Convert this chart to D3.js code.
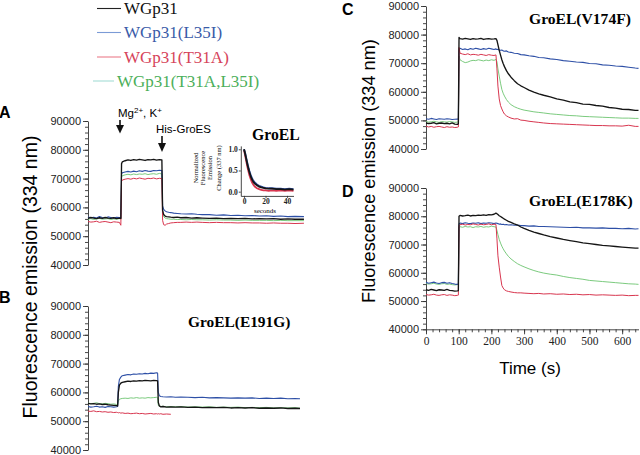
<!DOCTYPE html>
<html><head><meta charset="utf-8">
<script src="https://cdn.jsdelivr.net/npm/d3@7"></script>
<style>body{margin:0;background:#fff}svg{display:block}</style>
</head><body>
<svg id="chart" width="640" height="455"></svg>
<script>
// ---------------- DATA ----------------
const seriesNames = ["WGp31", "WGp31(L35I)", "WGp31(T31A)", "WGp31(T31A,L35I)"];
const seriesKeys = ["black", "blue", "red", "green"];
const yTickValues = [40000, 50000, 60000, 70000, 80000, 90000];
const xTickValues = [0, 100, 200, 300, 400, 500, 600];
const panelTitles = ["GroEL", "GroEL(E191G)", "GroEL(V174F)", "GroEL(E178K)"];
const panelLetters = ["A", "B", "C", "D"];

// Panel A (time, s)
const tA = [0,8,16,24,32,40,48,56,64,72,80,88,92,
  94,96,104,112,120,128,136,144,152,160,168,176,184,192,200,207,
  209,212,216,220,226,232,240,250,260,275,290,305,320,340,360,380,400,420,440,460,480,500,520,540,560,580,605];
const aBlack = [56200,56500,56300,56100,56400,56200,56500,56300,56200,56400,56100,56300,56200,
  75200,75800,76200,76500,76300,76600,76400,76700,76500,76300,76600,76500,76700,76400,76600,76500,
  59000,57500,57000,56800,56700,56600,56500,56600,56400,56500,56300,56400,56300,56200,56300,56100,56200,56100,56200,56000,56100,56000,56100,55900,56000,55900,55900];
const aBlue = [56700,56400,56600,56300,56800,56500,56400,56700,56500,56300,56600,56500,56400,
  71500,72000,72300,72500,72300,72600,72400,72700,72500,72800,72600,72500,72800,72700,72900,72800,
  60500,59300,58800,58500,58300,58200,58000,57900,57800,57700,57800,57600,57500,57500,57300,57400,57200,57300,57100,57200,57000,57100,56900,57000,56800,56900,56800];
const aRed = [55100,54900,55000,55200,54800,55000,55100,54900,54700,55000,54900,54800,53800,
  69000,69500,69800,70000,69800,70100,69900,70200,70000,69800,70100,70000,70200,69900,70100,70000,
  55500,54000,53800,54200,54400,54600,54700,54800,54800,54900,54800,54900,54800,54700,54800,54700,54700,54600,54700,54600,54600,54500,54600,54500,54500,54400,54500];
const aGreen = [55900,56100,55800,56000,56200,55900,56000,56100,55800,56000,55900,56100,55900,
  70500,71000,71300,71500,71300,71600,71400,71600,71500,71700,71400,71600,71700,71500,71800,71600,
  58000,56800,56300,56100,56000,55900,55900,55800,55800,55700,55800,55700,55700,55600,55700,55600,55600,55500,55600,55500,55500,55500,55400,55500,55400,55400,55400];

// Panel B
const tB = [0,8,16,24,32,40,48,56,64,72,80,83,
  85,88,92,96,104,112,120,128,136,144,152,160,168,176,184,192,195,
  197,200,204,210,220,232,245,260,280,300,320,340,360,380,400,420,440,460,480,500,520,540,560,580,594];
const bBlack = [56200,56000,56100,55900,56000,55800,55900,55700,55600,55500,55400,55300,
  60000,62500,63200,63500,63700,63900,63800,64000,63900,64100,64000,64200,64100,64000,64200,64100,64000,
  56500,55300,55000,55100,54900,55000,54900,55000,54800,54900,54700,54800,54700,54800,54600,54700,54600,54700,54500,54600,54500,54600,54400,54500,54400];
const bBlue = [55100,54900,55000,55200,54900,55000,54800,55100,55000,54900,55000,55100,
  62000,64500,65300,65800,66000,66200,66100,66400,66300,66500,66400,66600,66500,66700,66600,66800,66700,
  60000,58800,58600,58500,58400,58500,58300,58400,58300,58200,58300,58100,58200,58100,58000,58100,58000,58100,57900,58000,57900,58000,57800,57900,57800];
const bRed = [53500,53400,53600,53300,53400,53200,53300,53100,53200,53000,53100,53000,
  52900,53000,52800,52900,52700,52800,52600,52700,52800,52600,52700,52500,52600,52700,52500,52600,52500,
  52600,52500,52600,52400,52500,52400,null,null,null,null,null,null,null,null,null,null,null,null,null,null,null,null,null,null,null];
const bGreen = [56300,56100,56200,56400,56100,56000,56200,56100,55900,56000,55800,55700,
  57000,57600,57800,57900,58000,57900,58100,58000,58200,58000,58100,58000,58200,58100,58200,58300,58200,
  55500,55200,55100,55200,55000,55100,55000,55100,54900,55000,54900,55000,54800,54900,54800,54900,54700,54800,54700,54800,54600,54700,54600,54700,54500];

// Panels C and D share time points
const tCD = [0,8,16,24,32,40,48,56,64,72,80,88,96,99,
  101,104,112,120,128,136,144,152,160,168,176,184,192,200,208,214,
  217,220,224,228,232,236,240,246,252,260,270,280,290,300,315,330,345,360,380,400,420,440,460,480,500,520,540,560,580,600,620,640,650];
const cBlack = [49100,48900,49000,49200,48800,49000,49100,48900,49000,48800,49100,48700,48600,48800,
  79000,78600,78400,78700,78500,78300,78600,78400,78500,78700,78300,78500,78600,78400,78500,78600,
  78000,76500,74500,72800,71200,69900,68800,67400,66300,65100,63900,62800,62100,61500,60600,59900,59300,58800,58200,57500,57100,56500,56200,55700,55600,55200,55000,54500,54300,53900,53800,53500,53500];
const cBlue = [50600,50400,50700,50500,50300,50600,50500,50400,50600,50500,50300,50400,50500,50400,
  74600,75200,74800,75000,74700,75100,74900,75200,75000,74800,75100,74900,75200,75000,74800,75000,
  74800,74900,74600,74500,74600,74300,74200,74300,73900,73800,73500,73400,73000,72900,72600,72400,72000,71900,71500,71300,70900,70700,70400,70300,69900,69800,69400,69300,69000,68900,68600,68300,68200];
const cRed = [48000,47700,47900,47600,47800,47900,47700,47500,47800,47600,47700,47500,47600,47700,
  75500,73500,73200,73000,73300,72900,73100,73000,72800,73100,72900,72700,73000,72800,72700,72900,
  68000,62000,57500,55200,54000,53000,52200,51600,51200,50800,50500,50600,50100,50000,49700,49500,49300,49100,48900,48800,48700,48600,48500,48400,48300,48200,48200,48100,48100,48000,48300,47900,47900];
const cGreen = [49600,49400,49500,49700,49500,49300,49600,49500,49400,49600,49500,49300,49400,49500,
  72500,71200,70600,70200,70400,70800,71000,70900,71200,71000,70800,71100,70900,71200,71000,71300,
  70500,68000,65500,63000,60800,59500,58500,57300,56400,55500,54800,54300,53900,53600,53300,53000,52800,52600,52300,52100,51900,51700,51600,51400,51300,51200,51100,51000,50900,50800,50800,50700,50700];

const dBlack = [54000,53800,54100,53900,53700,54000,53900,53800,54100,53800,53700,53500,53600,53700,
  80000,80300,80100,80200,80400,80100,80300,80200,80400,80300,80500,80300,80600,80500,80700,81100,
  80900,80600,80200,79900,79600,79300,79000,78600,78200,77800,77300,76900,76200,75700,75000,74400,73900,73400,72800,72300,71800,71400,71000,70600,70300,70000,69700,69500,69300,69100,68900,68700,68700];
const dBlue = [56600,56300,56500,56700,56400,56200,56500,56600,56300,56500,56200,56000,55900,56100,
  77300,77600,77400,77700,77500,77400,77600,77500,77700,77400,77600,77500,77700,77600,77400,77600,
  77500,77400,77200,77300,77100,77200,77000,77100,76900,77000,76800,76900,76700,76700,76500,76600,76400,76400,76300,76200,76100,76000,76100,75900,75900,75800,75900,75700,75700,75600,75700,75500,75600];
const dRed = [52300,52100,52200,52400,52100,52000,52200,52300,52000,52200,52100,51900,52000,52100,
  76700,77000,77200,76900,77100,77000,77300,77100,76900,77200,77000,77100,77300,77000,77200,77100,
  72000,66000,62000,58500,55500,54600,54000,53600,53400,53200,53000,52900,52900,52800,52700,52600,52700,52500,52600,52400,52500,52300,52400,52200,52300,52100,52200,52100,52000,52100,51900,52000,52000];
const dGreen = [56200,56000,56100,56300,56000,55900,56100,56200,55900,56000,55800,55700,55800,55900,
  76000,76300,76100,76400,76200,76300,76000,76300,76200,76400,76100,76300,76200,76500,76300,76200,
  75000,73500,71800,70500,69400,68500,67700,66700,65800,64900,64000,63200,62600,62100,61400,60800,60300,59900,59500,59200,58700,58300,58000,57700,57300,57100,56900,56700,56500,56300,56100,56000,55900];

// Inset of panel A (normalized decay)
const tInset = [0,1,2,3,4,5,6,7,8,9,10,12,14,16,18,20,23,26,30,34,38,42,46];
const insetBlack = [1.0,0.9,0.78,0.66,0.55,0.46,0.38,0.31,0.26,0.22,0.19,0.15,0.12,0.10,0.09,0.08,0.07,0.07,0.06,0.06,0.05,0.06,0.05];
const insetBlue = [1.0,0.92,0.8,0.69,0.58,0.49,0.41,0.34,0.29,0.25,0.22,0.17,0.14,0.12,0.10,0.09,0.08,0.08,0.07,0.07,0.06,0.07,0.06];
const insetRed = [0.98,0.86,0.73,0.6,0.49,0.39,0.31,0.24,0.19,0.15,0.12,0.08,0.06,0.04,0.03,0.03,0.02,0.03,0.02,0.03,0.02,0.03,0.02];
const insetYTicks = [0, 0.5, 1.0];
const insetXTicks = [0, 20, 40];

// ---------------- STYLE ----------------
const colors = {black: "#151515", blue: "#2d4fa6", red: "#d8364f", green: "#6cc46f"};
const widths = {black: 1.35, blue: 1.1, red: 1.0, green: 0.9};
const legendText = {black: "#111", blue: "#3a5ba8", red: "#d6435a", green: "#4caf5a"};
const legendLine = {black: "#222", blue: "#7b9bd6", red: "#ec7d8a", green: "#a5dcd6"};
const SANS = "'Liberation Sans', Arial, sans-serif";
const SERIF = "'Liberation Serif', 'Times New Roman', serif";

const svg = d3.select("#chart");

const xAB = d3.scaleLinear().domain([0, 650]).range([88, 320]);
const xCD = d3.scaleLinear().domain([0, 650]).range([426, 638.5]);

const panels = [
  {t: tA, s: {black: aBlack, blue: aBlue, red: aRed, green: aGreen}, x: xAB, y: d3.scaleLinear().domain([40000, 90000]).range([265, 121]), ax: 88},
  {t: tB, s: {black: bBlack, blue: bBlue, red: bRed, green: bGreen}, x: xAB, y: d3.scaleLinear().domain([40000, 90000]).range([450, 306]), ax: 88},
  {t: tCD, s: {black: cBlack, blue: cBlue, red: cRed, green: cGreen}, x: xCD, y: d3.scaleLinear().domain([40000, 90000]).range([149, 6]), ax: 426},
  {t: tCD, s: {black: dBlack, blue: dBlue, red: dRed, green: dGreen}, x: xCD, y: d3.scaleLinear().domain([40000, 90000]).range([329.3, 188]), ax: 426}
];

function styleAxis(g, font, size) {
  g.selectAll("path,line").attr("stroke", "#333").attr("stroke-width", 0.9);
  g.selectAll("text").attr("font-family", font).attr("font-size", size).attr("fill", "#222");
}

const drawOrder = ["green", "blue", "red", "black"];

panels.forEach(p => {
  const g = svg.append("g");
  const minor = g.append("g").attr("transform", `translate(${p.ax},0)`)
    .call(d3.axisLeft(p.y).tickValues(d3.range(40000, 90001, 2000)).tickSize(3).tickSizeOuter(0).tickFormat(""));
  styleAxis(minor, SANS, 11);
  const major = g.append("g").attr("transform", `translate(${p.ax},0)`)
    .call(d3.axisLeft(p.y).tickValues(yTickValues).tickSize(5).tickSizeOuter(0).tickPadding(2).tickFormat(d3.format("d")));
  styleAxis(major, SANS, 11);
  major.select(".domain").remove();

  drawOrder.forEach(k => {
    const vals = p.s[k];
    const pts = p.t.map((t, i) => [t, vals[i]]);
    const line = d3.line()
      .defined(d => d[1] !== null && d[1] !== undefined)
      .x(d => p.x(d[0])).y(d => p.y(d[1]));
    g.append("path").attr("d", line(pts)).attr("fill", "none")
      .attr("stroke", colors[k]).attr("stroke-width", widths[k]).attr("stroke-linejoin", "round");
  });
});

// X axis for panel D
const xg1 = svg.append("g").attr("transform", `translate(0,329.3)`)
  .call(d3.axisBottom(xCD).tickValues(d3.range(0, 641, 20)).tickSize(3).tickSizeOuter(0).tickFormat(""));
styleAxis(xg1, SERIF, 11);
const xg2 = svg.append("g").attr("transform", `translate(0,329.3)`)
  .call(d3.axisBottom(xCD).tickValues(xTickValues).tickSize(5).tickSizeOuter(0).tickPadding(3).tickFormat(d3.format("d")));
styleAxis(xg2, SERIF, 11.5);
xg2.select(".domain").remove();

svg.append("text").attr("x", 530).attr("y", 374).attr("text-anchor", "middle")
  .attr("font-family", SANS).attr("font-size", 17).text("Time (s)");

// Y axis labels
svg.append("text").attr("transform", "translate(30,277) rotate(-90)").attr("text-anchor", "middle")
  .attr("dominant-baseline", "central").attr("font-family", SANS).attr("font-size", 19.5)
  .text("Fluorescence emission (334 nm)");
svg.append("text").attr("transform", "translate(369,171) rotate(-90)").attr("text-anchor", "middle")
  .attr("dominant-baseline", "central").attr("font-family", SANS).attr("font-size", 18.2)
  .text("Fluorescence emission (334 nm)");

// Panel titles
const titlePos = [[252, 140, 15.7], [188, 327, 15.4], [529, 24, 15.6], [529, 206, 15.6]];
panelTitles.forEach((t, i) => {
  svg.append("text").attr("x", titlePos[i][0]).attr("y", titlePos[i][1])
    .attr("font-family", SERIF).attr("font-weight", "bold").attr("font-size", titlePos[i][2]).text(t);
});
// Panel letters
const letterPos = [[-1, 118], [-1, 303], [342, 15], [342, 197]];
panelLetters.forEach((t, i) => {
  svg.append("text").attr("x", letterPos[i][0]).attr("y", letterPos[i][1])
    .attr("font-family", SANS).attr("font-weight", "bold").attr("font-size", 16).text(t);
});

// Legend
const legendRows = [
  {x1: 97, x2: 121, tx: 124, y: 14},
  {x1: 97, x2: 121, tx: 124, y: 38},
  {x1: 97, x2: 121, tx: 124, y: 62.5},
  {x1: 93, x2: 114, tx: 117, y: 86.5}
];
seriesKeys.forEach((k, i) => {
  const r = legendRows[i];
  svg.append("line").attr("x1", r.x1).attr("x2", r.x2).attr("y1", r.y - 5.5).attr("y2", r.y - 5.5)
    .attr("stroke", legendLine[k]).attr("stroke-width", 1.1);
  svg.append("text").attr("x", r.tx).attr("y", r.y).attr("font-family", SERIF).attr("font-size", 17)
    .attr("fill", legendText[k]).text(seriesNames[i]);
});

// Annotations (panel A)
function arrow(x, y0, yBase, yTip) {
  svg.append("line").attr("x1", x).attr("x2", x).attr("y1", y0).attr("y2", yBase + 1)
    .attr("stroke", "#111").attr("stroke-width", 1.6);
  svg.append("path").attr("d", `M${x - 4},${yBase} L${x + 4},${yBase} L${x},${yTip} Z`).attr("fill", "#111");
}
arrow(120, 120, 125, 133.5);
arrow(162, 136, 143, 152);
const mg = svg.append("text").attr("x", 118).attr("y", 117).attr("font-family", SANS).attr("font-size", 11.5);
mg.append("tspan").text("Mg");
mg.append("tspan").attr("dy", -4.5).attr("font-size", 8).text("2+");
mg.append("tspan").attr("dy", 4.5).text(", K");
mg.append("tspan").attr("dy", -4.5).attr("font-size", 8).text("+");
svg.append("text").attr("x", 156).attr("y", 133).attr("font-family", SANS).attr("font-size", 11.5).text("His-GroES");

// Inset
const xI = d3.scaleLinear().domain([-3, 46]).range([240.8, 293.5]);
const yI = d3.scaleLinear().domain([-0.1, 1.08]).range([195.9, 145.9]);
const gi = svg.append("g");
const ixa = gi.append("g").attr("transform", "translate(0,195.9)")
  .call(d3.axisBottom(xI).tickValues(insetXTicks).tickSize(2).tickSizeOuter(0).tickPadding(1).tickFormat(d3.format("d")));
styleAxis(ixa, SERIF, 7.5);
const iya = gi.append("g").attr("transform", "translate(240.8,0)")
  .call(d3.axisLeft(yI).tickValues(insetYTicks).tickSize(2).tickSizeOuter(0).tickPadding(1).tickFormat(d3.format(".1f")));
styleAxis(iya, SERIF, 7.5);
gi.selectAll("text").attr("font-weight", "bold");
[["red", insetRed], ["blue", insetBlue], ["black", insetBlack]].forEach(([k, vals]) => {
  const line = d3.line().x(d => xI(d[0])).y(d => yI(d[1]));
  gi.append("path").attr("d", line(tInset.map((t, i) => [t, vals[i]]))).attr("fill", "none")
    .attr("stroke", colors[k]).attr("stroke-width", 1.8);
});
gi.append("text").attr("x", 265).attr("y", 213).attr("text-anchor", "middle")
  .attr("font-family", SERIF).attr("font-size", 7).text("seconds");
const insetLabel = ["Normalized", "Fluorescence", "Emission", "Change (337 nm)"];
const insetLabelX = [195.5, 202.5, 209.5, 218.5];
insetLabel.forEach((t, i) => {
  gi.append("text").attr("transform", `translate(${insetLabelX[i]},168) rotate(-90)`).attr("text-anchor", "middle")
    .attr("dominant-baseline", "central").attr("font-family", SERIF).attr("font-size", 6.5).text(t);
});
</script>
</body></html>
